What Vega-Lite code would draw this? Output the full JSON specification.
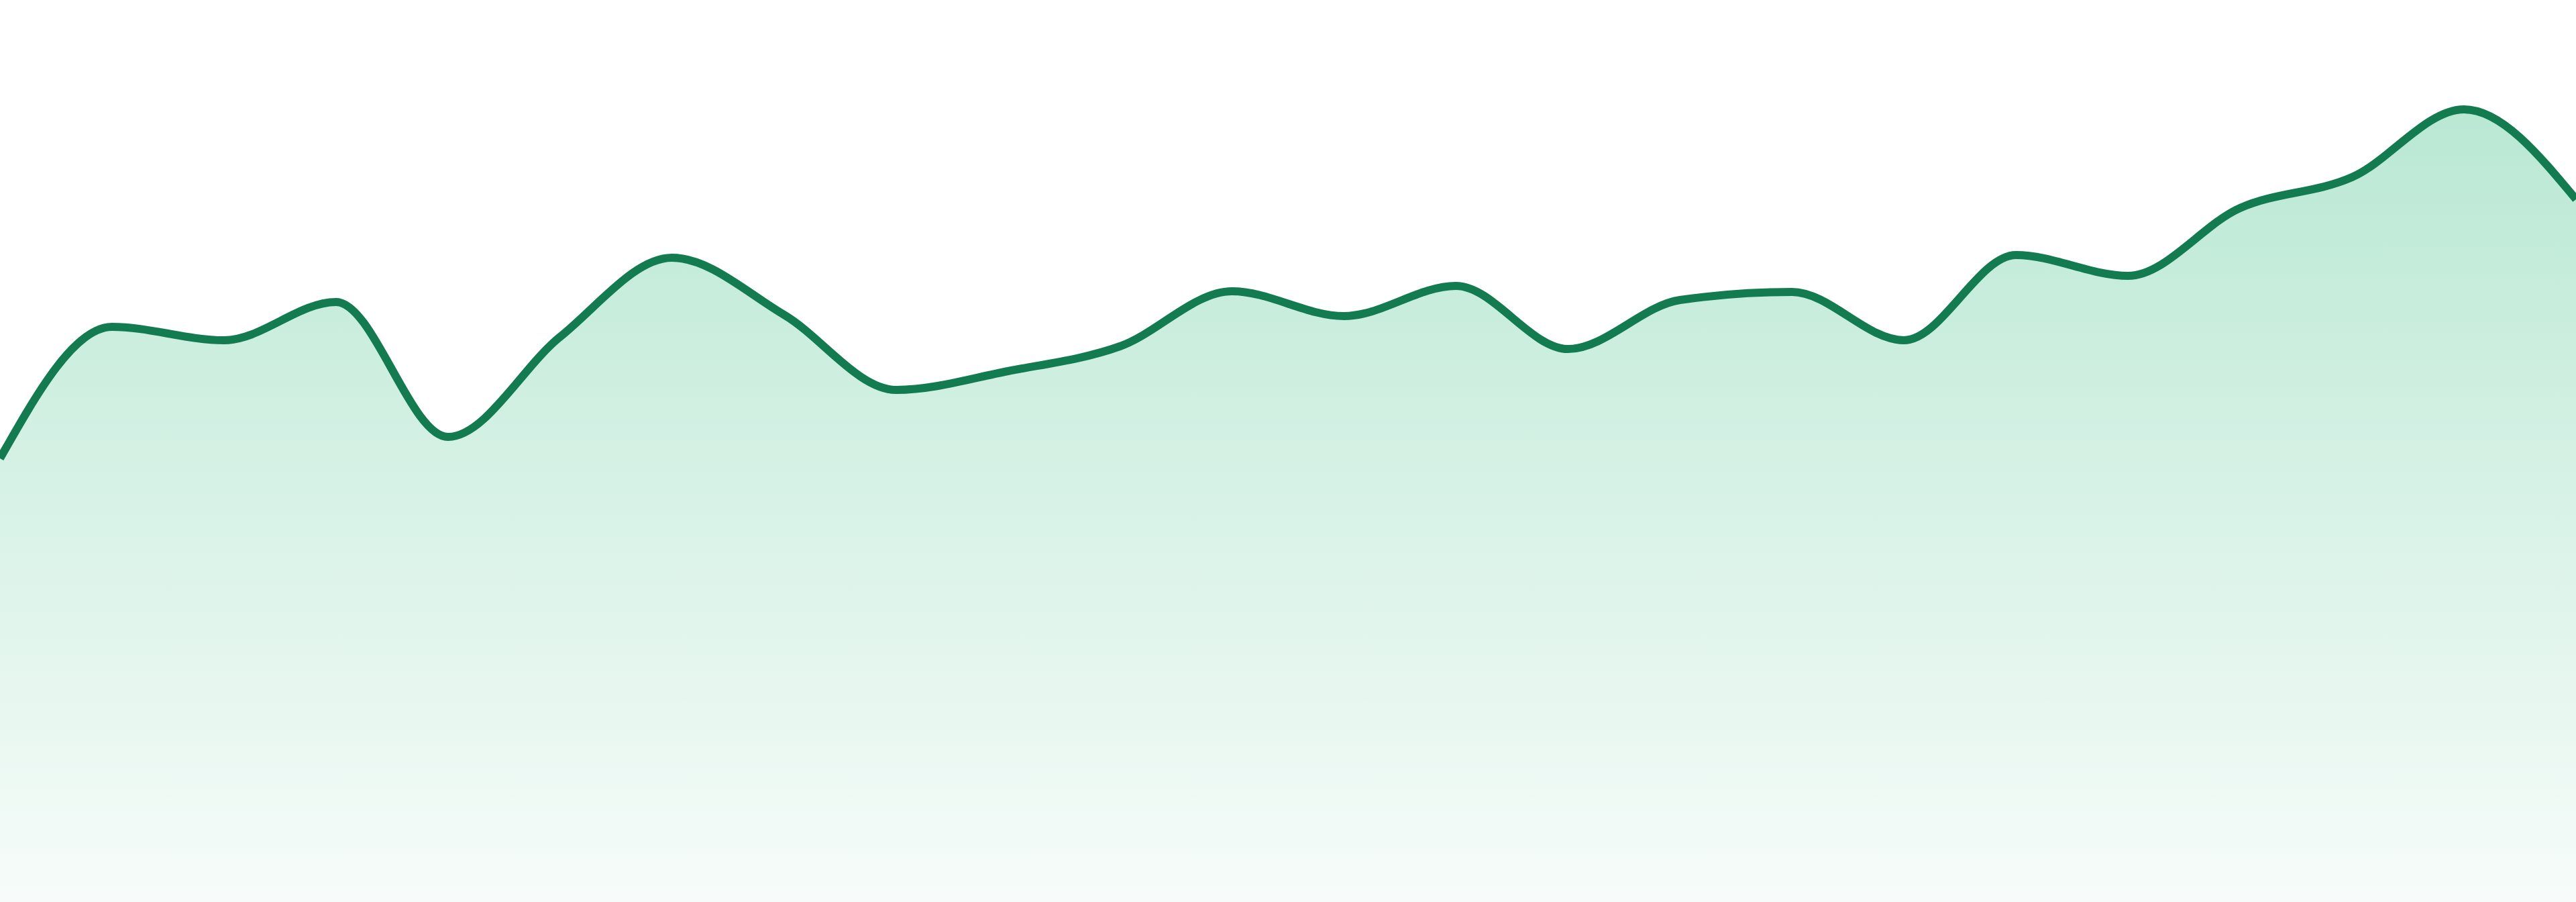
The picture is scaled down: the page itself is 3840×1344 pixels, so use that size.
{
  "$schema": "https://vega.github.io/schema/vega-lite/v6.json",
  "width": 3840,
  "height": 1344,
  "autosize": {"type": "none"},
  "padding": 0,
  "background": "#ffffff",
  "config": {"view": {"stroke": null}},
  "data": {
    "values": [
      {"i": 0, "v": 661},
      {"i": 1, "v": 857},
      {"i": 2, "v": 837},
      {"i": 3, "v": 894},
      {"i": 4, "v": 693},
      {"i": 5, "v": 842},
      {"i": 6, "v": 960},
      {"i": 7, "v": 875},
      {"i": 8, "v": 763},
      {"i": 9, "v": 791},
      {"i": 10, "v": 828},
      {"i": 11, "v": 910},
      {"i": 12, "v": 873},
      {"i": 13, "v": 918},
      {"i": 14, "v": 824},
      {"i": 15, "v": 897},
      {"i": 16, "v": 909},
      {"i": 17, "v": 837},
      {"i": 18, "v": 964},
      {"i": 19, "v": 933},
      {"i": 20, "v": 1034},
      {"i": 21, "v": 1080},
      {"i": 22, "v": 1181},
      {"i": 23, "v": 1047}
    ]
  },
  "encoding": {
    "x": {"field": "i", "type": "quantitative", "scale": {"domain": [0, 23], "nice": false, "zero": false}, "axis": null},
    "y": {"field": "v", "type": "quantitative", "scale": {"domain": [0, 1344], "nice": false}, "axis": null}
  },
  "layer": [
    {
      "mark": {
        "type": "area",
        "interpolate": "monotone",
        "clip": true,
        "fill": {
          "gradient": "linear",
          "x1": 0, "y1": 0, "x2": 0, "y2": 1,
          "stops": [
            {"offset": 0, "color": "#b9e8d3"},
            {"offset": 1, "color": "#f7fcfa"}
          ]
        }
      }
    },
    {
      "mark": {"type": "line", "interpolate": "monotone", "clip": true, "color": "#127b4f", "strokeWidth": 12}
    }
  ]
}
